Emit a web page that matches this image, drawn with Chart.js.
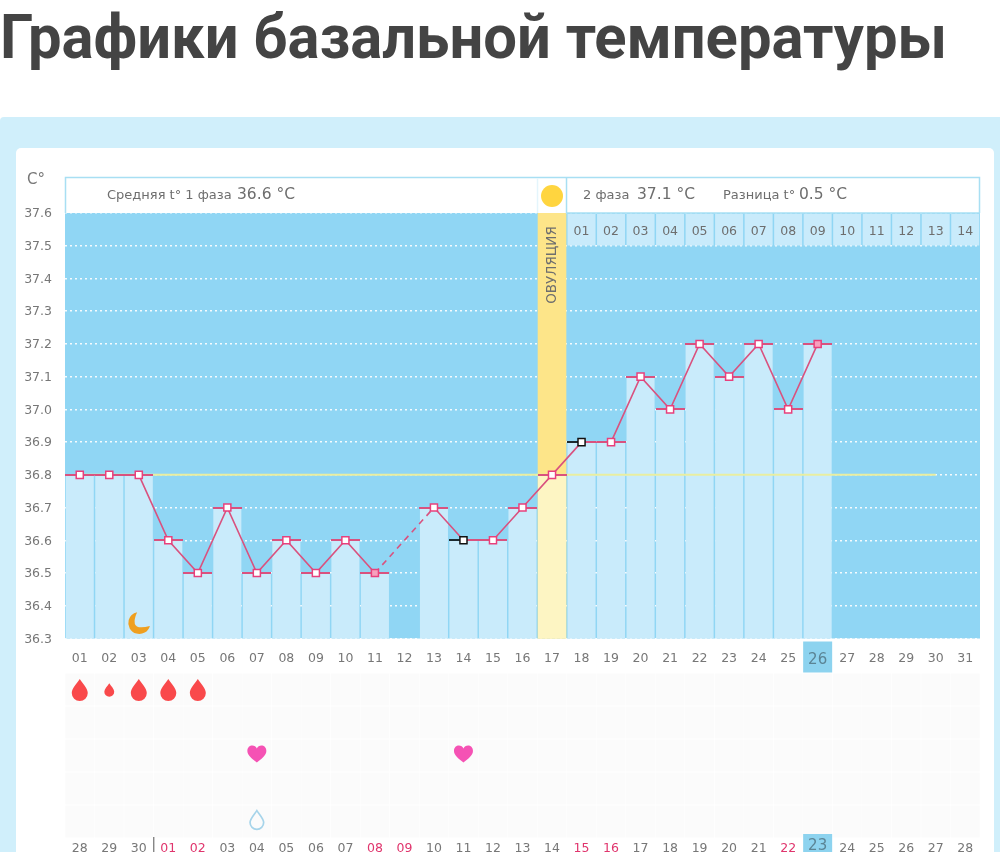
<!DOCTYPE html>
<html lang="ru"><head><meta charset="utf-8">
<script src="https://cdn.jsdelivr.net/npm/chart.js@4"></script>
<style>
html,body{margin:0;padding:0;background:#fff;width:1000px;height:852px;overflow:hidden}
h1{position:absolute;left:0;top:-1px;margin:0;font:700 62px/76px Roboto,sans-serif;color:#444;white-space:nowrap;transform-origin:0 0}
#panel{position:absolute;left:0;top:117px;width:1000px;height:735px;background:#d0effb;border-radius:4px 0 0 0}
#card{position:absolute;left:16px;top:148px;width:978px;height:704px;background:#fff;border-radius:5px 5px 0 0}
canvas{position:absolute;left:0;top:0}
</style></head><body>
<h1 id="t">Графики базальной температуры</h1>
<div id="panel"></div><div id="card"></div>
<canvas id="c" width="1000" height="852"></canvas>
<script>
const tEl=document.getElementById('t');tEl.style.transform='scaleX('+(947/tEl.getBoundingClientRect().width)+')';
const calendarDays=['01','02','03','04','05','06','07','08','09','10','11','12','13','14','15','16','17','18','19','20','21','22','23','24','25','26','27','28','29','30','31'];
const temps=[36.8,36.8,36.8,36.6,36.5,36.7,36.5,36.6,36.5,36.6,36.5,null,36.7,36.6,36.6,36.7,36.8,36.9,36.9,37.1,37.0,37.2,37.1,37.2,37.0,37.2,null,null,null,null,null];
const coverLine=[36.8,36.8,36.8,36.8,36.8,36.8,36.8,36.8,36.8,36.8,36.8,36.8,36.8,36.8,36.8,36.8,36.8,36.8,36.8,36.8,36.8,36.8,36.8,36.8,36.8,36.8,36.8,36.8,36.8,36.8,null];
const ovulationColumn=[null,null,null,null,null,null,null,null,null,null,null,null,null,null,null,null,37.6,null,null,null,null,null,null,null,null,null,null,null,null,null,null];
const flaggedIdx=[13,17];
const paleMarkerIdx=[10,25];
const lutealDays=['01','02','03','04','05','06','07','08','09','10','11','12','13','14'];
const lutealStartIdx=17;
const cycleDays=['28','29','30','01','02','03','04','05','06','07','08','09','10','11','12','13','14','15','16','17','18','19','20','21','22','23','24','25','26','27','28'];
const fertileCycleIdx=[3,4,10,11,17,18,24];
const todayIdx=25;
const ovulationIdx=16;
const bleedingIdx=[0,1,2,3,4];
const bleedingScale=[1,0.62,1,1,1];
const heartIdx=[6,13];
const clearDropIdx=[6];
const moonIdx=2;

const FONT='"DejaVu Sans",sans-serif', GREY='#777', LINE='#d9527f', MARK='#e8407c';
function dashCanvas(flag){
  const cv=document.createElement('canvas');cv.width=29;cv.height=2;
  const x=cv.getContext('2d');x.fillStyle=LINE;x.fillRect(0,0,29,2);
  if(flag){x.fillStyle='#1c2a30';x.fillRect(0,0,15,2);}
  return cv;
}
const dashNormal=dashCanvas(false),dashFlag=dashCanvas(true);

function drop(ctx,cx,cy,s,fill,stroke){
  ctx.save();ctx.translate(cx,cy);ctx.scale(s,s);
  ctx.beginPath();ctx.moveTo(0,-11);
  ctx.bezierCurveTo(3,-6.5,8,-1.5,8,3);
  ctx.arc(0,3,8,0,Math.PI);
  ctx.bezierCurveTo(-8,-1.5,-3,-6.5,0,-11);ctx.closePath();
  if(fill){ctx.fillStyle=fill;ctx.fill();}
  if(stroke){ctx.strokeStyle=stroke;ctx.lineWidth=2;ctx.stroke();}
  ctx.restore();
}
function heart(ctx,cx,cy){
  ctx.save();ctx.translate(cx,cy);ctx.fillStyle='#f552b4';
  ctx.beginPath();ctx.moveTo(0,8.5);
  ctx.bezierCurveTo(-4,5.5,-9.5,1.5,-9.5,-3);
  ctx.bezierCurveTo(-9.5,-10,-1.5,-10,0,-5.5);
  ctx.bezierCurveTo(1.5,-10,9.5,-10,9.5,-3);
  ctx.bezierCurveTo(9.5,1.5,4,5.5,0,8.5);ctx.closePath();ctx.fill();ctx.restore();
}

const decor={id:'decor',
 beforeDraw(ch){
  const c=ch.ctx,a=ch.chartArea,x=ch.scales.x;
  c.save();
  c.fillStyle='#90d6f4';c.fillRect(a.left,a.top,a.width,a.height);
  for(let i=0;i<calendarDays.length;i++){const cx=x.getPixelForValue(i);
    for(let r=0;r<5;r++){c.fillStyle='#fbfbfb';c.fillRect(cx-14.5,a.bottom+35+r*33,29,32);}
  }
  c.fillStyle='#8dd3ef';
  const tx=x.getPixelForValue(todayIdx);
  c.fillRect(tx-14.5,a.bottom+3,29,31);
  c.fillRect(tx-14.5,834,29,18);
  c.restore();
 },
 afterDatasetsDraw(ch){
  const c=ch.ctx,a=ch.chartArea,x=ch.scales.x;
  c.save();
  const ox=x.getPixelForValue(ovulationIdx);
  // header band
  c.fillStyle='#fff';c.fillRect(a.left,177,a.width,36);
  c.strokeStyle='#a8dff3';c.lineWidth=1.5;
  c.beginPath();c.moveTo(a.left+.5,213);c.lineTo(a.left+.5,177.5);c.lineTo(a.right-.5,177.5);c.lineTo(a.right-.5,213);
  c.moveTo(ox+14.5,178);c.lineTo(ox+14.5,213);c.lineTo(a.right,213);c.stroke();
  c.strokeStyle='#e4f5fc';c.beginPath();c.moveTo(ox-14.5,178);c.lineTo(ox-14.5,213);c.stroke();
  c.fillStyle='#ffd53f';c.beginPath();c.arc(ox,196,11,0,Math.PI*2);c.fill();
  c.textBaseline='middle';c.textAlign='left';
  c.fillStyle='#6e6e6e';
  c.font='13px '+FONT;c.fillText('Средняя t° 1 фаза',107,196);
  c.fillText('2 фаза',583,196);c.fillText('Разница t°',723,196);
  c.font='15.5px '+FONT;c.fillText('36.6 °C',237,195);c.fillText('37.1 °C',637,195);c.fillText('0.5 °C',799,195);
  c.font='15px '+FONT;c.fillStyle=GREY;c.fillText('C°',27,180);
  // second-phase day row
  c.textAlign='center';
  lutealDays.forEach((d,i)=>{const cx=x.getPixelForValue(lutealStartIdx+i);
    c.fillStyle='#c9ebfb';c.fillRect(cx-14,214,28,31.5);
    c.fillStyle='#6e6e6e';c.font='12.5px '+FONT;c.fillText(d,cx,232);});
  // ovulation label
  c.save();c.translate(ox,265);c.rotate(-Math.PI/2);c.fillStyle='#6e6e6e';c.font='13.5px '+FONT;c.fillText('ОВУЛЯЦИЯ',0,0);c.restore();
  // moon
  const mx=x.getPixelForValue(moonIdx)+0.5,my=623;
  c.fillStyle='#ef9f1f';c.beginPath();c.arc(mx,my,11,0.27,1.5*Math.PI-0.2,false);
  c.quadraticCurveTo(mx-11,my+9,mx+11*Math.cos(0.27),my+11*Math.sin(0.27));c.closePath();c.fill();
  // symbols
  bleedingIdx.forEach((d,i)=>drop(c,x.getPixelForValue(d),690,bleedingScale[i],'#f9494b',null));
  heartIdx.forEach(d=>heart(c,x.getPixelForValue(d),754));
  clearDropIdx.forEach(d=>drop(c,x.getPixelForValue(d),820,0.85,null,'#a6d4ea'));
  // bottom cycle-day labels
  cycleDays.forEach((d,i)=>{const cx=x.getPixelForValue(i);
    const today=i===todayIdx;
    c.fillStyle=today?'#5b8495':(fertileCycleIdx.includes(i)?'#e0356d':GREY);
    c.font=(today?'15px ':'12.5px ')+FONT;c.fillText(d,cx,today?846:849);});
  c.strokeStyle='#555';c.lineWidth=1;c.beginPath();c.moveTo(x.getPixelForValue(3)-14.5,837);c.lineTo(x.getPixelForValue(3)-14.5,852);c.stroke();
  c.restore();
 }};

new Chart(document.getElementById('c'),{
 data:{labels:calendarDays,datasets:[
  {type:'line',label:'Температура',data:temps,order:1,spanGaps:true,borderColor:LINE,borderWidth:1.6,tension:0,
   segment:{borderDash:s=>(s.p0.skip||s.p1.skip)?[6,5]:undefined},
   pointStyle:'rect',pointRadius:5,pointHoverRadius:5,pointBorderWidth:1.5,
   pointBorderColor:s=>flaggedIdx.includes(s.dataIndex)?'#111':MARK,
   pointBackgroundColor:s=>paleMarkerIdx.includes(s.dataIndex)?'#f7a0bd':'#fff'},
  {type:'line',label:'Отметка',data:temps,order:2,showLine:false,
   pointStyle:s=>flaggedIdx.includes(s.dataIndex)?dashFlag:dashNormal,pointRadius:1},
  {type:'line',label:'Покровная линия',data:coverLine,order:3,borderColor:'#e9eea0',borderWidth:2,pointRadius:0,tension:0},
  {type:'bar',label:'Столбцы',data:temps,order:4,grouped:false,barPercentage:0.95,categoryPercentage:1,
   backgroundColor:s=>s.dataIndex===ovulationIdx?'#fdf5c3':'#c9ebfb'},
  {type:'bar',label:'Овуляция',data:ovulationColumn,order:5,grouped:false,barPercentage:0.97,categoryPercentage:1,backgroundColor:'#fde589'}
 ]},
 options:{responsive:false,animation:false,events:[],
  layout:{padding:{top:213,right:20,left:0,bottom:0}},
  plugins:{legend:{display:false},title:{display:false},tooltip:{enabled:false}},
  scales:{
   x:{type:'category',offset:true,grid:{display:false},border:{display:false},
      afterFit(s){s.height=213.5;},
      ticks:{maxRotation:0,autoSkip:false,padding:5,
        color:s=>s.index===todayIdx?'#5b8495':GREY,
        font:s=>({family:'DejaVu Sans',size:s.index===todayIdx?15:12.5})}},
   y:{type:'linear',min:36.3,max:37.6,
      afterFit(s){s.width=65;},
      afterBuildTicks(s){s.ticks=[];for(let t=363;t<=376;t++)s.ticks.push({value:t/10});},
      grid:{color:'rgba(255,255,255,.9)',lineWidth:1.5,drawTicks:false},
      border:{display:false,dash:[2,3]},
      ticks:{color:GREY,padding:13,labelOffset:1,font:{family:'DejaVu Sans',size:12.5},callback:v=>v.toFixed(1)}}
  }},
 plugins:[decor]
});
</script></body></html>
